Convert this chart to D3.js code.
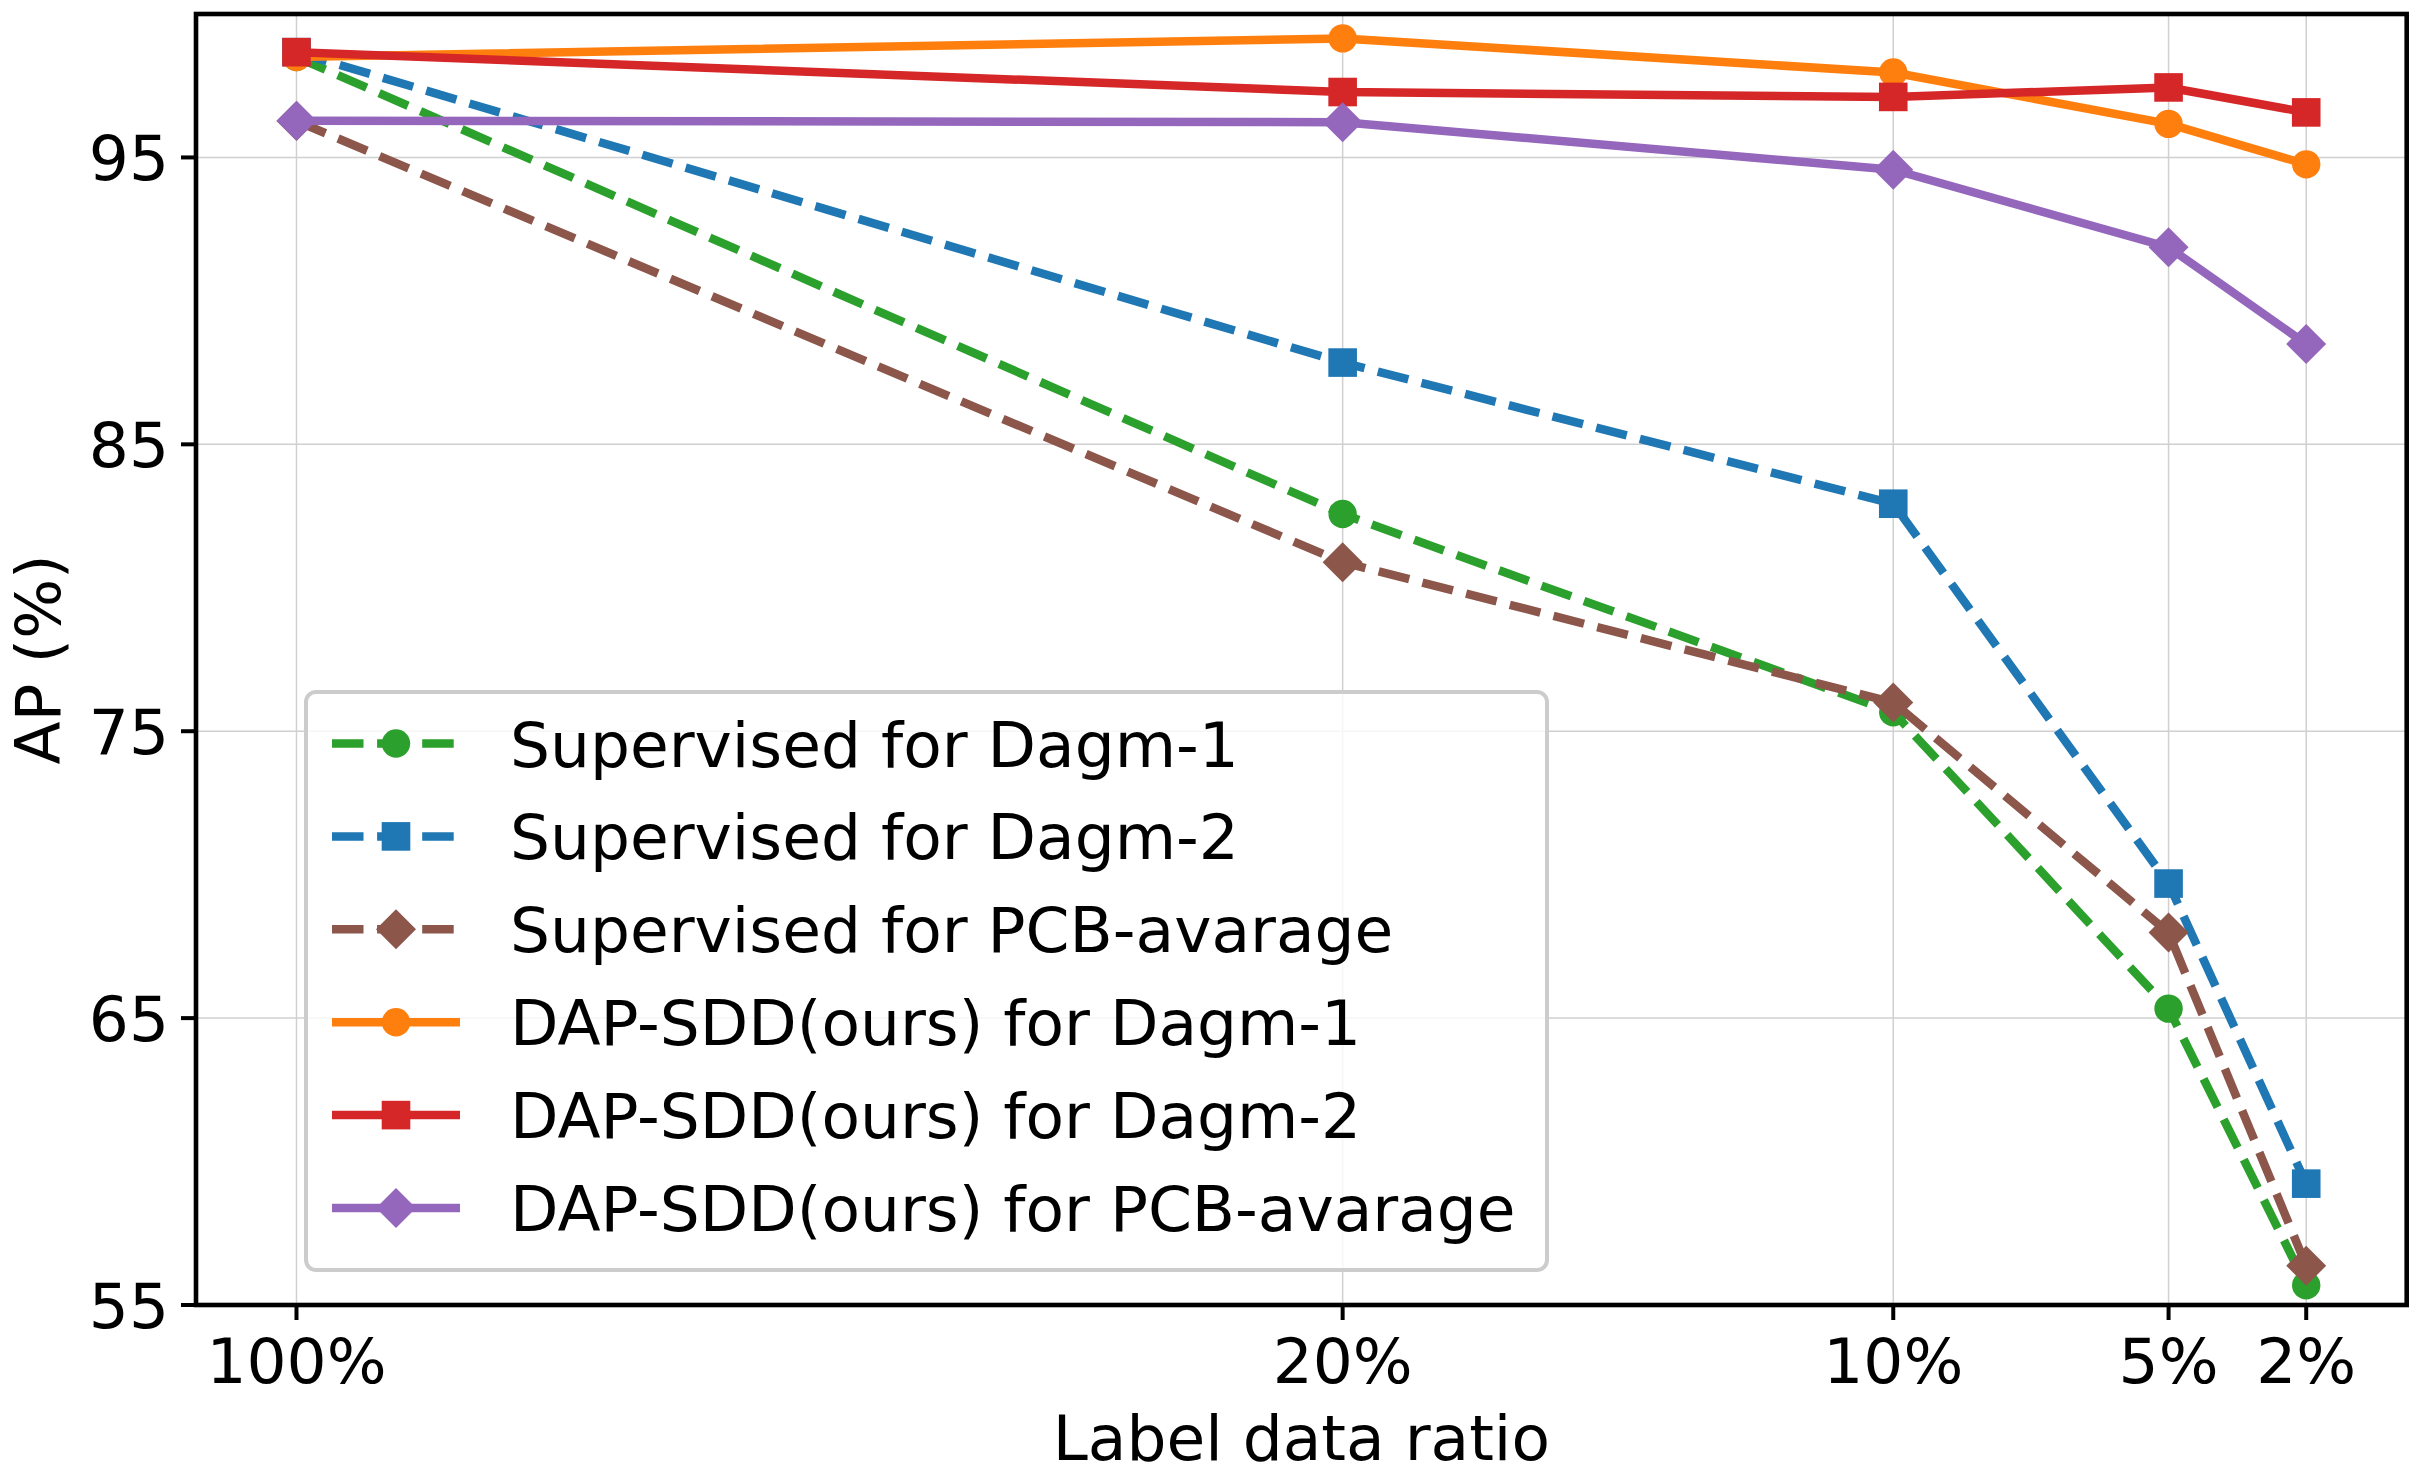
<!DOCTYPE html>
<html>
<head>
<meta charset="utf-8">
<script src="https://cdn.jsdelivr.net/npm/d3@7"></script>
<style>
  body { margin: 0; background: #fff; }
  text { font-family: "DejaVu Sans", sans-serif; fill: #000; }
</style>
</head>
<body>
<div id="chart"></div>
<script>
// categories on the x axis and where they sit (the figure spaces them unevenly)
var ratioLabels = ["100%", "20%", "10%", "5%", "2%"];
var ratioPos = [0, 7.6, 11.6, 13.6, 14.6];

var yTicks = [55, 65, 75, 85, 95];

// AP (%) per label ratio
var supDagm1 = [98.5, 82.57, 75.66, 65.33, 55.69];
var supDagm2 = [98.67, 87.85, 82.93, 69.69, 59.23];
var supPcb = [96.27, 80.89, 76.0, 67.98, 56.37];
var dapDagm1 = [98.5, 99.15, 97.96, 96.17, 94.76];
var dapDagm2 = [98.67, 97.28, 97.11, 97.44, 96.57];
var dapPcb = [96.28, 96.23, 94.57, 91.87, 88.5];

var seriesNames = [
  "Supervised for Dagm-1", "Supervised for Dagm-2", "Supervised for PCB-avarage",
  "DAP-SDD(ours) for Dagm-1", "DAP-SDD(ours) for Dagm-2", "DAP-SDD(ours) for PCB-avarage"
];
var seriesValues = [supDagm1, supDagm2, supPcb, dapDagm1, dapDagm2, dapPcb];
var seriesColors = ["#2ca02c", "#1f77b4", "#8c564b", "#ff7f0e", "#d62728", "#9467bd"];
var seriesMarkers = ["circle", "square", "diamond", "circle", "square", "diamond"];
var seriesDashed = [true, true, true, false, false, false];

var W = 2420, H = 1468;
var plot = {left: 196, right: 2406.7, top: 14, bottom: 1305};
var lw = 8.5, dash = "31.5,13.6";
var fs = 63;

var svg = d3.select("#chart").append("svg")
  .attr("width", W).attr("height", H);

// 5% margins like matplotlib
var span = d3.max(ratioPos) - d3.min(ratioPos);
var x = d3.scaleLinear()
  .domain([d3.min(ratioPos) - span * 0.05, d3.max(ratioPos) + span * 0.05])
  .range([plot.left, plot.right]);
var y = d3.scaleLinear().domain([55, 100]).range([plot.bottom, plot.top]);

// grid
var grid = svg.append("g").attr("stroke", "#d0d0d0").attr("stroke-width", 1.5);
grid.selectAll(".gx").data(ratioPos).enter().append("line")
  .attr("x1", function(d) { return x(d); }).attr("x2", function(d) { return x(d); })
  .attr("y1", plot.top).attr("y2", plot.bottom);
grid.selectAll(".gy").data(yTicks).enter().append("line")
  .attr("y1", function(d) { return y(d); }).attr("y2", function(d) { return y(d); })
  .attr("x1", plot.left).attr("x2", plot.right);

function drawMarker(g, type, cx, cy, color) {
  if (type == "circle") {
    g.append("circle").attr("cx", cx).attr("cy", cy).attr("r", 14.2).attr("fill", color);
  } else if (type == "square") {
    g.append("rect").attr("x", cx - 14.3).attr("y", cy - 14.3)
      .attr("width", 28.6).attr("height", 28.6).attr("fill", color);
  } else {
    var r = 20;
    g.append("path").attr("fill", color)
      .attr("d", "M" + cx + "," + (cy - r) + "L" + (cx + r) + "," + cy +
        "L" + cx + "," + (cy + r) + "L" + (cx - r) + "," + cy + "Z");
  }
}

var line = d3.line()
  .x(function(d, i) { return x(ratioPos[i]); })
  .y(function(d) { return y(d); });

// series: line first then its markers, in plot order
seriesValues.forEach(function(vals, k) {
  var g = svg.append("g");
  g.append("path").datum(vals).attr("d", line)
    .attr("fill", "none").attr("stroke", seriesColors[k])
    .attr("stroke-width", lw)
    .attr("stroke-dasharray", seriesDashed[k] ? dash : null)
    .attr("stroke-linejoin", "round")
    .attr("stroke-linecap", seriesDashed[k] ? "butt" : "square");
  vals.forEach(function(v, i) {
    drawMarker(g, seriesMarkers[k], x(ratioPos[i]), y(v), seriesColors[k]);
  });
});

// spines
svg.append("rect")
  .attr("x", plot.left).attr("y", plot.top)
  .attr("width", plot.right - plot.left).attr("height", plot.bottom - plot.top)
  .attr("fill", "none").attr("stroke", "#000").attr("stroke-width", 4.6);

// ticks + labels
var ax = svg.append("g");
ratioPos.forEach(function(p, i) {
  ax.append("line").attr("x1", x(p)).attr("x2", x(p))
    .attr("y1", plot.bottom).attr("y2", plot.bottom + 15)
    .attr("stroke", "#000").attr("stroke-width", 4);
  ax.append("text").attr("x", x(p)).attr("y", 1383)
    .attr("text-anchor", "middle").attr("font-size", fs).text(ratioLabels[i]);
});
yTicks.forEach(function(t) {
  ax.append("line").attr("x1", plot.left - 15).attr("x2", plot.left)
    .attr("y1", y(t)).attr("y2", y(t))
    .attr("stroke", "#000").attr("stroke-width", 4);
  ax.append("text").attr("x", 169).attr("y", y(t) + 23)
    .attr("text-anchor", "end").attr("font-size", fs).text(t);
});

svg.append("text").attr("x", (plot.left + plot.right) / 2).attr("y", 1460)
  .attr("text-anchor", "middle").attr("font-size", fs).text("Label data ratio");
svg.append("text")
  .attr("transform", "translate(60," + (plot.top + plot.bottom) / 2 + ") rotate(-90)")
  .attr("text-anchor", "middle").attr("font-size", fs).text("AP (%)");

// legend
var lg = svg.append("g");
lg.append("rect").attr("x", 306).attr("y", 692).attr("width", 1241).attr("height", 578)
  .attr("rx", 10).attr("fill", "#fff").attr("fill-opacity", 0.8)
  .attr("stroke", "#cccccc").attr("stroke-width", 4);
seriesNames.forEach(function(name, k) {
  var ry = 743.5 + k * 92.9;
  lg.append("line").attr("x1", 332).attr("x2", 460).attr("y1", ry).attr("y2", ry)
    .attr("stroke", seriesColors[k]).attr("stroke-width", lw)
    .attr("stroke-dasharray", seriesDashed[k] ? dash : null);
  drawMarker(lg, seriesMarkers[k], 396, ry, seriesColors[k]);
  lg.append("text").attr("x", 510).attr("y", ry + 23).attr("font-size", fs).text(name);
});
</script>
</body>
</html>
